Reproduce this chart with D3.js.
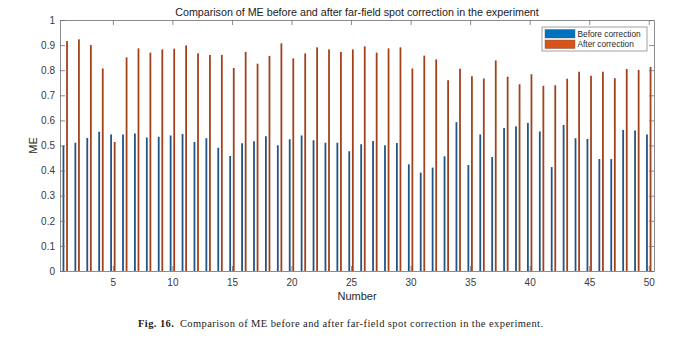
<!DOCTYPE html>
<html>
<head>
<meta charset="utf-8">
<script src="https://cdn.jsdelivr.net/npm/d3@7"></script>
<style>
  body { margin: 0; background: #fff; }
  svg { display: block; }
</style>
</head>
<body>
<div id="chart"></div>
<script>
const numbers = [1, 2, 3, 4, 5, 6, 7, 8, 9, 10, 11, 12, 13, 14, 15, 16, 17, 18, 19, 20,
  21, 22, 23, 24, 25, 26, 27, 28, 29, 30, 31, 32, 33, 34, 35, 36, 37, 38, 39, 40,
  41, 42, 43, 44, 45, 46, 47, 48, 49, 50];
const before = [0.500, 0.511, 0.530, 0.555, 0.544, 0.544, 0.548, 0.532, 0.535, 0.540,
  0.546, 0.514, 0.529, 0.491, 0.458, 0.509, 0.517, 0.537, 0.501, 0.525,
  0.540, 0.521, 0.511, 0.511, 0.477, 0.505, 0.518, 0.501, 0.510, 0.425,
  0.392, 0.412, 0.457, 0.593, 0.422, 0.544, 0.454, 0.570, 0.576, 0.590,
  0.556, 0.414, 0.582, 0.529, 0.526, 0.446, 0.446, 0.562, 0.560, 0.544];
const after = [0.916, 0.923, 0.900, 0.807, 0.514, 0.851, 0.887, 0.870, 0.883, 0.886,
  0.899, 0.867, 0.861, 0.861, 0.809, 0.873, 0.826, 0.857, 0.907, 0.847,
  0.867, 0.891, 0.883, 0.873, 0.883, 0.895, 0.870, 0.887, 0.891, 0.807,
  0.858, 0.843, 0.760, 0.806, 0.776, 0.767, 0.839, 0.774, 0.744, 0.784,
  0.738, 0.740, 0.766, 0.794, 0.778, 0.794, 0.768, 0.805, 0.801, 0.813];
const seriesNames = ["Before correction", "After correction"];
const xTicks = [5, 10, 15, 20, 25, 30, 35, 40, 45, 50];
const yTicks = [0, 0.1, 0.2, 0.3, 0.4, 0.5, 0.6, 0.7, 0.8, 0.9, 1];

const width = 686, height = 340;
const margin = {top: 20, right: 32, bottom: 69, left: 60};
const font = "'Liberation Sans', Arial, sans-serif";

const svg = d3.select("#chart").append("svg")
  .attr("width", width).attr("height", height);

const x = d3.scaleLinear().domain([0.56, 50.44]).range([margin.left, width - margin.right]);
const y = d3.scaleLinear().domain([0, 1]).range([height - margin.bottom, margin.top]);
const barW = x(0.15) - x(0);
const fills = ["#1f5684", "#a2421d"];
const swatch = ["#0072BD", "#D95319"];

// BARS
const series = [before, after];
const offsets = [-0.15, 0.15];
series.forEach((vals, s) => {
  svg.append("g").selectAll("rect").data(numbers).join("rect")
    .attr("x", d => x(d + offsets[s]) - barW / 2)
    .attr("width", barW)
    .attr("y", (d, i) => y(vals[i]))
    .attr("height", (d, i) => y(0) - y(vals[i]))
    .attr("fill", fills[s]);
});

// AXES (ticks inside, box on)
const axisColor = "#6e6e6e";
const tickLen = 5;
const gx = svg.append("g").attr("transform", `translate(0,${y(0)})`)
  .call(d3.axisBottom(x).tickValues(xTicks).tickSize(-tickLen).tickPadding(8).tickSizeOuter(0));
const gxTop = svg.append("g").attr("transform", `translate(0,${y(1)})`)
  .call(d3.axisTop(x).tickValues(xTicks).tickSize(-tickLen).tickFormat("").tickSizeOuter(0));
const gy = svg.append("g").attr("transform", `translate(${x.range()[0]},0)`)
  .call(d3.axisLeft(y).tickValues(yTicks).tickSize(-tickLen).tickPadding(5).tickSizeOuter(0)
    .tickFormat(d => d3.format("~g")(d)));
const gyRight = svg.append("g").attr("transform", `translate(${x.range()[1]},0)`)
  .call(d3.axisRight(y).tickValues(yTicks).tickSize(-tickLen).tickFormat("").tickSizeOuter(0));

[gx, gxTop, gy, gyRight].forEach(g => {
  g.select(".domain").attr("stroke", axisColor).attr("stroke-width", 0.8);
  g.selectAll(".tick line").attr("stroke", axisColor).attr("stroke-width", 0.8);
  g.selectAll("text").attr("fill", "#3a3a3a").attr("font-size", 10).attr("font-family", font);
});

// TITLES
svg.append("text")
  .attr("x", (x.range()[0] + x.range()[1]) / 2).attr("y", 15.5)
  .attr("text-anchor", "middle").attr("font-family", font).attr("font-size", 10.7)
  .attr("fill", "#1a1a1a")
  .text("Comparison of ME before and after far-field spot correction in the experiment");

svg.append("text")
  .attr("transform", `translate(37,${(y(0) + y(1)) / 2}) rotate(-90)`)
  .attr("text-anchor", "middle").attr("font-family", font).attr("font-size", 11)
  .attr("fill", "#262626").text("ME");

svg.append("text")
  .attr("x", (x.range()[0] + x.range()[1]) / 2).attr("y", 300)
  .attr("text-anchor", "middle").attr("font-family", font).attr("font-size", 11)
  .attr("fill", "#262626").text("Number");

// LEGEND
const leg = svg.append("g").attr("transform", "translate(542,27)");
leg.append("rect").attr("width", 105).attr("height", 24)
  .attr("fill", "#fff").attr("stroke", "#8a8a8a").attr("stroke-width", 0.8);
seriesNames.forEach((name, i) => {
  leg.append("rect").attr("x", 3).attr("y", 2.5 + i * 10.5)
    .attr("width", 30).attr("height", 8.5)
    .attr("fill", swatch[i]).attr("stroke", "#555").attr("stroke-width", 0.4);
  leg.append("text").attr("x", 35.5).attr("y", 9.7 + i * 10.5)
    .attr("font-family", font).attr("font-size", 8.3).attr("fill", "#262626")
    .text(name);
});

// CAPTION
const cap = svg.append("text")
  .attr("x", 138).attr("y", 326.5)
  .attr("textLength", 405).attr("lengthAdjust", "spacing")
  .attr("font-family", "'Liberation Serif', 'Times New Roman', serif")
  .attr("font-size", 10.5).attr("fill", "#222");
cap.append("tspan").attr("font-weight", "bold").text("Fig. 16.");
cap.append("tspan").text("\u2002Comparison of ME before and after far-field spot correction in the experiment.");
</script>
</body>
</html>
